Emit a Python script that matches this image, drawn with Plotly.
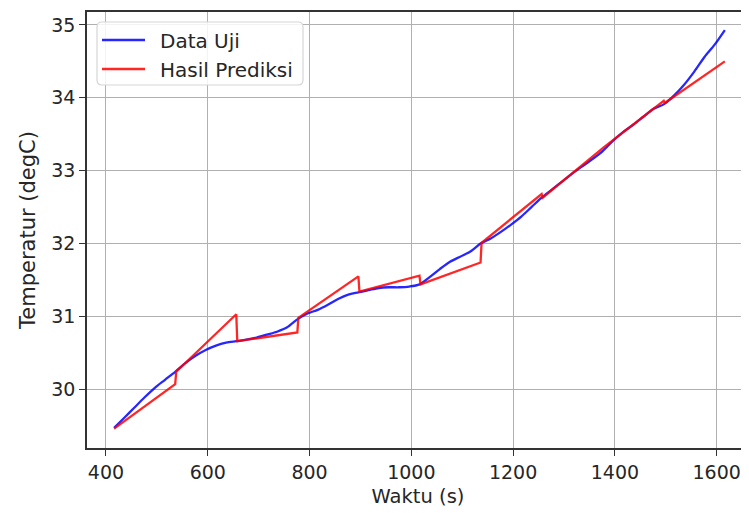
import plotly.graph_objects as go

# ---- data ----
time_s = [416, 436, 456, 476, 496, 516, 536, 556, 576, 596, 616, 636, 656, 676, 696,
          716, 736, 756, 776, 796, 816, 836, 856, 876, 896, 916, 936, 956, 976, 996,
          1016, 1036, 1056, 1076, 1096, 1116, 1136, 1156, 1176, 1196, 1216, 1236, 1256,
          1276, 1296, 1316, 1336, 1356, 1376, 1396, 1416, 1436, 1456, 1476, 1496, 1516,
          1536, 1556, 1576, 1596, 1616]
data_uji = [29.47, 29.61, 29.75, 29.89, 30.02, 30.13, 30.24, 30.36, 30.46, 30.54, 30.60,
            30.64, 30.66, 30.68, 30.71, 30.75, 30.79, 30.85, 30.96, 31.04, 31.09, 31.16,
            31.24, 31.30, 31.33, 31.36, 31.39, 31.40, 31.40, 31.41, 31.44, 31.54, 31.65,
            31.75, 31.82, 31.89, 32.00, 32.07, 32.16, 32.26, 32.37, 32.50, 32.63, 32.74,
            32.85, 32.96, 33.06, 33.16, 33.27, 33.41, 33.53, 33.63, 33.74, 33.85, 33.91,
            34.03, 34.18, 34.36, 34.56, 34.73, 34.93]

pred_t = [416, 536, 538, 656, 658, 776, 778, 896, 898, 1016, 1018, 1136, 1138, 1256,
          1258, 1376, 1378, 1496, 1498, 1616]
pred_val = [29.46, 30.07, 30.24, 31.03, 30.66, 30.78, 30.98, 31.55, 31.34, 31.56, 31.44,
            31.74, 32.01, 32.68, 32.63, 33.31, 33.32, 33.96, 33.93, 34.50]

x_ticks = [400, 600, 800, 1000, 1200, 1400, 1600]
y_ticks = [30, 31, 32, 33, 34, 35]
series_names = ["Data Uji", "Hasil Prediksi"]
x_title = "Waktu (s)"
y_title = "Temperatur (degC)"

# ---- layout geometry (page has an 8px body margin) ----
OFF = 8
W, H = 749 - OFF, 513 - OFF
L, R, T, B = 87 - OFF, 0, 12 - OFF, 65
PW, PH = W - L - R, H - T - B
BLUE = "rgba(0,0,255,0.85)"
RED = "rgba(255,0,0,0.85)"
FONT = "DejaVu Sans"


def px(xp):
    # page pixel -> paper
    return (xp - OFF - L) / PW


def py(yp):
    return (H - B - (yp - OFF)) / PH


fig = go.Figure()
fig.add_trace(go.Scatter(x=time_s, y=data_uji, mode="lines", name=series_names[0],
                         line=dict(color=BLUE, width=2.3, shape="spline", smoothing=0.8),
                         showlegend=False))
fig.add_trace(go.Scatter(x=pred_t, y=pred_val, mode="lines", name=series_names[1],
                         line=dict(color=RED, width=2.3), showlegend=False))

axis_common = dict(
    showgrid=True, gridcolor="#b0b0b0", gridwidth=1.3, zeroline=False,
    showline=True, linecolor="#333333", linewidth=1.5,
    ticks="outside", ticklen=6, tickwidth=1.3, tickcolor="#333333",
    tickfont=dict(family=FONT, size=19, color="#262626"),
)
fig.update_xaxes(range=[362.7, 1663.5], tickvals=x_ticks, mirror=True,
                 title=dict(text=x_title, font=dict(family=FONT, size=19.5, color="#262626"),
                            standoff=8),
                 **axis_common)
fig.update_yaxes(range=[29.194, 35.178], tickvals=y_ticks, mirror=False,
                 title=dict(text=y_title, font=dict(family=FONT, size=21, color="#262626"),
                            standoff=10),
                 **axis_common)

# ---- legend box (drawn like matplotlib's rounded legend) ----
x0, x1, y0, y1, r = 97, 303, 22, 85, 5
path = (f"M {px(x0 + r)},{py(y0)} L {px(x1 - r)},{py(y0)} Q {px(x1)},{py(y0)} {px(x1)},{py(y0 + r)} "
        f"L {px(x1)},{py(y1 - r)} Q {px(x1)},{py(y1)} {px(x1 - r)},{py(y1)} "
        f"L {px(x0 + r)},{py(y1)} Q {px(x0)},{py(y1)} {px(x0)},{py(y1 - r)} "
        f"L {px(x0)},{py(y0 + r)} Q {px(x0)},{py(y0)} {px(x0 + r)},{py(y0)} Z")
fig.add_shape(type="path", xref="paper", yref="paper", path=path,
              line=dict(color="#d6d6d6", width=1.2), fillcolor="rgba(255,255,255,0.85)",
              layer="above")
for name, color, yc in [(series_names[0], BLUE, 40), (series_names[1], RED, 69)]:
    fig.add_shape(type="line", xref="paper", yref="paper",
                  x0=px(102), x1=px(145), y0=py(yc), y1=py(yc),
                  line=dict(color=color, width=2.3), layer="above")
    fig.add_annotation(xref="paper", yref="paper", x=px(158), y=py(yc + 1),
                       text=name, showarrow=False, xanchor="left", yanchor="middle",
                       font=dict(family=FONT, size=20, color="#262626"))

fig.update_layout(
    width=W, height=H, margin=dict(l=L, r=R, t=T, b=B, autoexpand=False),
    paper_bgcolor="white", plot_bgcolor="white",
    font=dict(family=FONT, color="#262626"),
    showlegend=False,
)

fig.write_html("out.html")
